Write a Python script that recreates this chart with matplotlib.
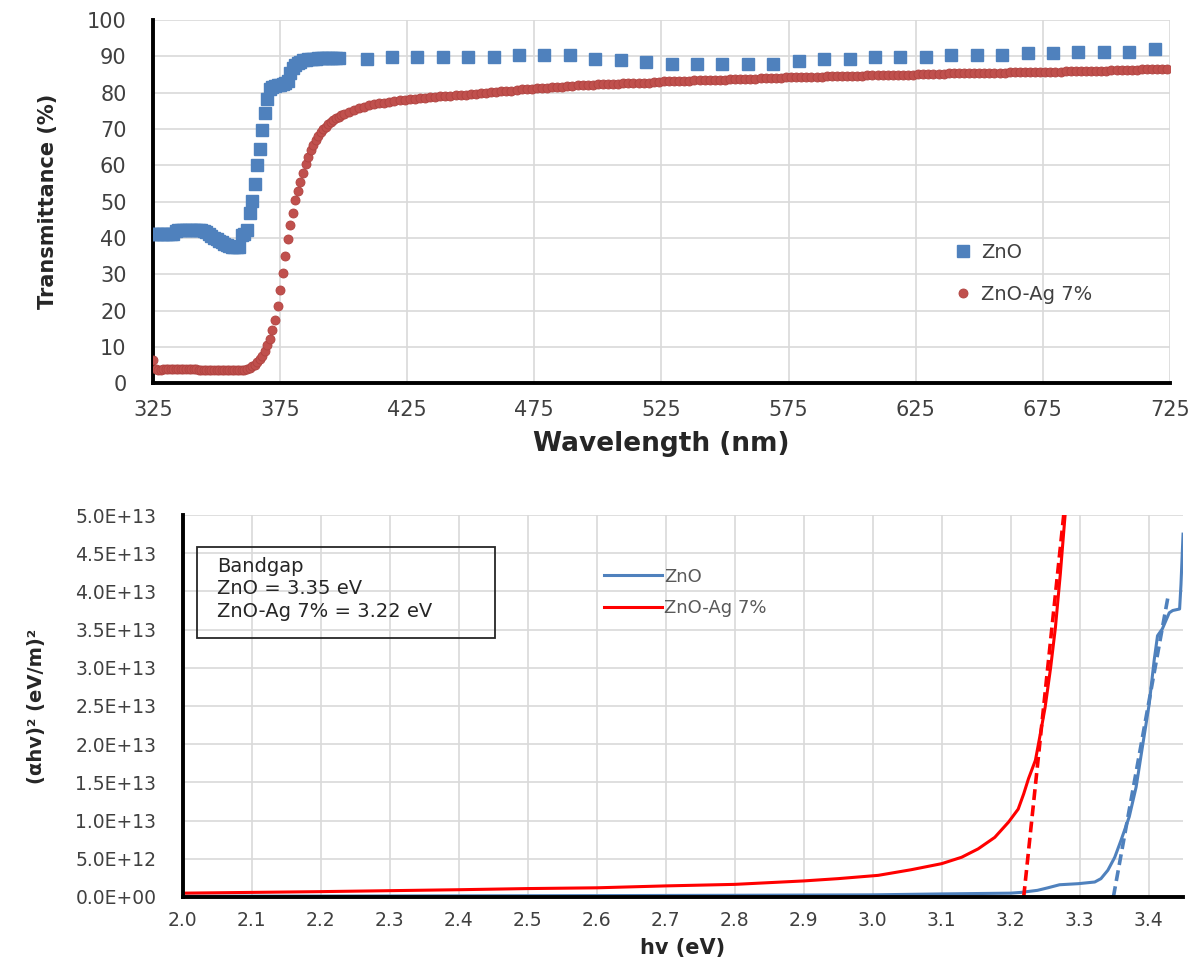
import numpy as np
import matplotlib
matplotlib.use("Agg")
import matplotlib.pyplot as plt
from matplotlib.patches import Rectangle

# Transmittance spectra (nm, %)
zno_nm = list(range(325, 399)) + list(range(409, 720, 10))
zno_T = [
    41.0, 41.0, 41.0, 41.0, 41.0, 41.1, 41.1, 41.1, 41.2, 41.8,   # 325-334
    42.1, 42.2, 42.2, 42.2, 42.2, 42.2, 42.2, 42.2, 42.2, 42.2,   # 335-344
    42.0, 41.6, 41.0, 40.5, 40.0, 39.6, 39.2, 38.8, 38.4, 38.1,   # 345-354
    37.8, 37.6, 37.6, 37.5, 37.6, 40.8, 41.2, 42.3, 46.8, 50.3,   # 355-364
    55.0, 60.0, 64.6, 69.8, 74.4, 78.4, 81.0, 81.6, 81.8, 82.0,   # 365-374
    82.2, 82.5, 82.8, 83.2, 85.5, 86.8, 87.6, 88.2, 88.6, 88.9,   # 375-384
    89.1, 89.2, 89.3, 89.4, 89.4, 89.5, 89.6, 89.6, 89.7, 89.7,   # 385-394
    89.7, 89.7, 89.6, 89.5,                                       # 395-398
    89.4, 89.8, 89.8, 89.8, 89.8, 89.8, 90.3, 90.3, 90.3, 89.4,   # 409-499
    88.9, 88.5, 88.0, 88.0, 88.0, 88.0, 88.0, 88.7, 89.4, 89.4,   # 509-599
    89.9, 89.9, 89.9, 90.4, 90.4, 90.4, 91.0, 91.0, 91.3, 91.3,   # 609-699
    91.3, 92.0,                                                   # 709-719
]

ag_nm = list(range(325, 400)) + list(range(400, 726, 2))
ag_T = [
    6.4, 4.0, 3.7, 3.7, 3.8, 3.8, 3.8, 3.9, 3.9, 3.9,             # 325-334
    4.0, 4.0, 4.0, 4.0, 4.0, 3.9, 3.9, 3.8, 3.7, 3.6,             # 335-344
    3.6, 3.5, 3.5, 3.5, 3.5, 3.5, 3.5, 3.5, 3.5, 3.5,             # 345-354
    3.5, 3.5, 3.5, 3.5, 3.5, 3.5, 3.6, 3.8, 4.1, 4.6,             # 355-364
    5.1, 5.8, 6.6, 7.6, 8.9, 10.4, 12.2, 14.6, 17.3, 21.2,        # 365-374
    25.7, 30.4, 35.0, 39.6, 43.5, 47.0, 50.5, 53.0, 55.5, 58.0,   # 375-384
    60.4, 62.4, 64.2, 65.7, 67.0, 68.1, 69.1, 70.0, 70.7, 71.4,   # 385-394
    72.0, 72.5, 73.0, 73.4, 73.8,                                 # 395-399
    74.1, 74.7, 75.2, 75.7, 76.1, 76.5, 76.8, 77.1, 77.3, 77.5,   # 400-418
    77.7, 77.9, 78.1, 78.3, 78.4, 78.5, 78.6, 78.8, 78.9, 79.0,   # 420-438
    79.1, 79.2, 79.3, 79.4, 79.5, 79.6, 79.7, 79.8, 80.0, 80.1,   # 440-458
    80.3, 80.4, 80.5, 80.6, 80.8, 80.9, 81.0, 81.1, 81.2, 81.3,   # 460-478
    81.4, 81.5, 81.6, 81.7, 81.8, 81.9, 82.0, 82.0, 82.1, 82.2,   # 480-498
    82.3, 82.4, 82.4, 82.5, 82.5, 82.6, 82.6, 82.7, 82.7, 82.8,   # 500-518
    82.8, 82.9, 83.0, 83.1, 83.1, 83.2, 83.2, 83.3, 83.3, 83.4,   # 520-538
    83.4, 83.5, 83.5, 83.6, 83.6, 83.6, 83.7, 83.7, 83.8, 83.8,   # 540-558
    83.9, 83.9, 84.0, 84.0, 84.0, 84.1, 84.1, 84.2, 84.2, 84.2,   # 560-578
    84.3, 84.3, 84.4, 84.4, 84.4, 84.5, 84.5, 84.6, 84.6, 84.6,   # 580-598
    84.7, 84.7, 84.7, 84.8, 84.8, 84.8, 84.9, 84.9, 84.9, 85.0,   # 600-618
    85.0, 85.0, 85.0, 85.1, 85.1, 85.1, 85.2, 85.2, 85.2, 85.3,   # 620-638
    85.3, 85.3, 85.3, 85.4, 85.4, 85.4, 85.4, 85.5, 85.5, 85.5,   # 640-658
    85.5, 85.6, 85.6, 85.6, 85.6, 85.7, 85.7, 85.7, 85.7, 85.8,   # 660-678
    85.8, 85.8, 85.9, 85.9, 85.9, 86.0, 86.0, 86.0, 86.1, 86.1,   # 680-698
    86.1, 86.2, 86.2, 86.2, 86.3, 86.3, 86.3, 86.4, 86.4, 86.5,   # 700-718
    86.5, 86.6, 86.6,                                             # 720-724
]
assert len(zno_nm) == len(zno_T) and len(ag_nm) == len(ag_T)

# Tauc plot, (alpha h nu)^2 in units of 1e12
zno_ev = [2.00, 2.20, 2.40, 2.60, 2.80, 3.00, 3.10, 3.20, 3.215, 3.239,
          3.254, 3.271, 3.298, 3.322, 3.331, 3.341, 3.351, 3.36, 3.372,
          3.382, 3.391, 3.401, 3.408, 3.413, 3.42, 3.43, 3.435, 3.445,
          3.447, 3.45]
zno_tauc = [0.10, 0.12, 0.15, 0.18, 0.22, 0.28, 0.40, 0.50, 0.60, 0.87,
            1.20, 1.60, 1.74, 1.96, 2.4, 3.5, 5.2, 7.4, 10.5,
            14.4, 19.6, 25.3, 30.9, 34.2, 35.1, 37.2, 37.5, 37.7,
            40.9, 47.5]
ag_ev = [2.00, 2.20, 2.40, 2.50, 2.60, 2.70, 2.80, 2.90, 2.95, 3.008,
         3.056, 3.10, 3.129, 3.153, 3.177, 3.197, 3.211, 3.219, 3.226,
         3.236, 3.243, 3.25, 3.258, 3.265, 3.272, 3.279]
ag_tauc = [0.50, 0.70, 0.95, 1.10, 1.20, 1.45, 1.65, 2.10, 2.40, 2.83,
           3.57, 4.36, 5.2, 6.3, 7.8, 9.8, 11.5, 13.5, 15.5,
           17.9, 21.3, 24.8, 30.0, 35.3, 42.2, 50.0]

# linear extrapolations to the energy axis
zno_fit_ev = [3.349, 3.428]
zno_fit = [0.0, 39.2]
ag_fit_ev = [3.219, 3.277]
ag_fit = [0.0, 50.0]

blue = "#4f81bd"
red_dot = "#c0504d"
grid_c = "#d9d9d9"
text_c = "#404040"

fig = plt.figure(figsize=(11.95, 9.58), dpi=100)

# --- transmittance ---
ax1 = fig.add_axes([0.128, 0.600, 0.851, 0.379])
ax1.plot(zno_nm, zno_T, ls="none", marker="s", ms=8.5, color=blue,
         mec=blue, label="ZnO", zorder=3)
ax1.plot(ag_nm, ag_T, ls="none", marker="o", ms=6.5, color=red_dot,
         mec="#b04340", mew=0.6, label="ZnO-Ag 7%", zorder=4)
ax1.set_xlim(325, 725)
ax1.set_ylim(0, 100)
ax1.set_xticks(np.arange(325, 726, 50))
ax1.set_yticks(np.arange(0, 101, 10))
ax1.grid(True, color=grid_c, lw=1.2)
ax1.set_axisbelow(True)
for s in ["top", "right"]:
    ax1.spines[s].set_visible(False)
for s in ["left", "bottom"]:
    ax1.spines[s].set_linewidth(2.8)
    ax1.spines[s].set_color("black")
ax1.tick_params(axis="x", length=0, labelsize=15, labelcolor=text_c, pad=12)
ax1.tick_params(axis="y", length=0, labelsize=15, labelcolor=text_c, pad=19)
ax1.set_xlabel("Wavelength (nm)", fontsize=19, fontweight="bold",
               color="#262626", labelpad=8)
ax1.set_ylabel("Transmittance (%)", fontsize=15, fontweight="bold",
               color="#262626", labelpad=21)
leg1 = ax1.legend(loc="upper left", bbox_to_anchor=(0.772, 0.435),
                  frameon=False, fontsize=14, handlelength=0.8,
                  handletextpad=0.5, labelspacing=1.2, markerscale=1.0)
for t in leg1.get_texts():
    t.set_color(text_c)

# --- Tauc plot ---
ax2 = fig.add_axes([0.153, 0.0637, 0.837, 0.3987])
sc = 1e12
ax2.plot(zno_ev, np.array(zno_tauc) * sc, color=blue, lw=2.2, label="ZnO")
ax2.plot(ag_ev, np.array(ag_tauc) * sc, color="#ff0000", lw=2.2,
         label="ZnO-Ag 7%")
ax2.plot(ag_fit_ev, np.array(ag_fit) * sc, color="#ff0000", lw=2.6,
         ls=(0, (3, 1.5)))
ax2.plot(zno_fit_ev, np.array(zno_fit) * sc, color=blue, lw=2.6,
         ls=(0, (3, 1.5)))
ax2.set_xlim(2.0, 3.45)
ax2.set_ylim(0, 5e13)
ev_ticks = np.round(np.arange(2.0, 3.41, 0.1), 1)
ax2.set_xticks(ev_ticks)
ax2.set_xticklabels([f"{v:.1f}" for v in ev_ticks])
yt = np.arange(0, 5.01e13, 5e12)
ax2.set_yticks(yt)
ax2.set_yticklabels([f"{v:.1E}" for v in yt])
ax2.grid(True, color=grid_c, lw=1.2)
ax2.set_axisbelow(True)
for s in ["top", "right"]:
    ax2.spines[s].set_visible(False)
for s in ["left", "bottom"]:
    ax2.spines[s].set_linewidth(2.8)
    ax2.spines[s].set_color("black")
ax2.tick_params(axis="x", length=0, labelsize=13.5, labelcolor=text_c, pad=10)
ax2.tick_params(axis="y", length=0, labelsize=13.5, labelcolor=text_c, pad=19)
ax2.set_xlabel("hv (eV)", fontsize=15, fontweight="bold", color="#262626",
               labelpad=6)
ax2.set_ylabel("(αhv)² (eV/m)²", fontsize=14, fontweight="bold",
               color="#262626", labelpad=21)
leg2 = ax2.legend(loc="upper left", bbox_to_anchor=(0.405, 0.905),
                  frameon=False, fontsize=13, handlelength=3.2,
                  handletextpad=0.1, labelspacing=0.75)
for t in leg2.get_texts():
    t.set_color("#595959")

# bandgap annotation box
ax2.add_patch(Rectangle((0.014, 0.678), 0.298, 0.238, transform=ax2.transAxes,
                        fill=False, ec="#262626", lw=1.3, zorder=5))
ax2.text(0.034, 0.89, "Bandgap\nZnO = 3.35 eV\nZnO-Ag 7% = 3.22 eV",
         transform=ax2.transAxes, fontsize=14, color="#262626", va="top",
         ha="left", linespacing=1.22, zorder=6)

fig.savefig("out.png", dpi=100)
